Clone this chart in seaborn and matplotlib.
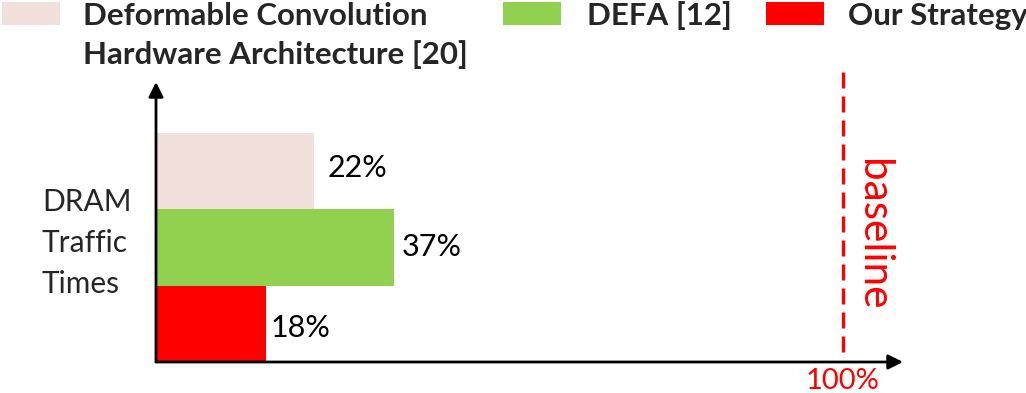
import matplotlib
matplotlib.use("Agg")
import matplotlib.pyplot as plt
import seaborn as sns
import pandas as pd
from matplotlib.patches import Rectangle

# ---- data ----
methods = ["Deformable Convolution\nHardware Architecture [20]", "DEFA [12]", "Our Strategy"]
bar_lengths = [23, 34.6, 16]          # bar lengths as drawn (relative to 100% baseline)
value_labels = ["22%", "37%", "18%"]  # printed annotations
colors = ["#F2E0DD", "#92D050", "#FF0000"]
baseline_value = 100
baseline_tick = "100%"
baseline_text = "baseline"
ylabel_text = "DRAM\nTraffic\nTimes"

sns.set_theme(style="white")
plt.rcParams['font.family'] = ['Lato', 'DejaVu Sans']

W, H = 1026, 393
fig = plt.figure(figsize=(W / 100, H / 100), dpi=100)


def fx(x):
    return x / W


def fy(y):
    return 1 - y / H


ax_left, ax_right, ax_top, ax_bottom = 156, 903, 82, 362
ax = fig.add_axes([fx(ax_left), fy(ax_bottom), fx(ax_right) - fx(ax_left), fy(ax_top) - fy(ax_bottom)])
ax.set_facecolor("none")

df = pd.DataFrame({"method": methods, "traffic": bar_lengths})
sns.barplot(data=df, y="method", x="traffic", hue="method", palette=colors,
            orient="h", width=1.0, legend=False, ax=ax, saturation=1, linewidth=0)

px_per_unit = (ax_bottom - 133) / 3.0
xmax = baseline_value * (ax_right - ax_left) / (843 - ax_left)
ax.set_xlim(0, xmax)
ax.set_ylim(2.5, 2.5 - (ax_bottom - ax_top) / px_per_unit)
units_per_px = xmax / (ax_right - ax_left)

for s in ax.spines.values():
    s.set_visible(False)
ax.set_xticks([])
ax.set_yticks([])
ax.set_xlabel("")
ax.set_ylabel("")

# axis arrows
arrow_kw = dict(arrowstyle='-|>', color='black', lw=2, mutation_scale=22, shrinkA=0, shrinkB=0)
ax.annotate("", xy=(0, 1), xytext=(0, 0), xycoords='axes fraction', textcoords='axes fraction',
            arrowprops=arrow_kw, annotation_clip=False)
ax.annotate("", xy=(1, 0), xytext=(0, 0), xycoords='axes fraction', textcoords='axes fraction',
            arrowprops=arrow_kw, annotation_clip=False)

# value labels
gaps = [14, 8, 5]
dys = [-0.04, 0.0, 0.05]
for i, (v, lab) in enumerate(zip(bar_lengths, value_labels)):
    ax.text(v + gaps[i] * units_per_px, i + dys[i], lab, va='center', ha='left',
            fontsize=22, color='black')

# baseline
h = ax_bottom - ax_top
ax.axvline(baseline_value, ymin=10 / h, ymax=(ax_bottom - 72) / h, color='red', lw=2.4,
           ls=(0, (4.8, 2.4)), clip_on=False)
fig.text(fx(873), fy(235), baseline_text, rotation=-90, color='red', fontsize=30.5,
         ha='center', va='center')
fig.text(fx(843), fy(381), baseline_tick, color='red', fontsize=21, ha='center', va='center')

# y label
fig.text(fx(42), fy(243), ylabel_text, ha='left', va='center', fontsize=21.5, linespacing=1.55)

# legend
legend_x = [(2, 83), (503, 587), (766, 848)]
for (px, tx), lab, c in zip(legend_x, methods, colors):
    fig.add_artist(Rectangle((fx(px), fy(25)), fx(58), 23 / H, transform=fig.transFigure,
                             facecolor=c, edgecolor='none'))
    nlines = lab.count("\n") + 1
    yc = 17 + (nlines - 1) * 20
    fig.text(fx(tx), fy(yc - 1.5), lab, ha='left', va='center', fontsize=22.5, fontweight='bold',
             linespacing=1.45)

fig.savefig("out.png", dpi=100)
